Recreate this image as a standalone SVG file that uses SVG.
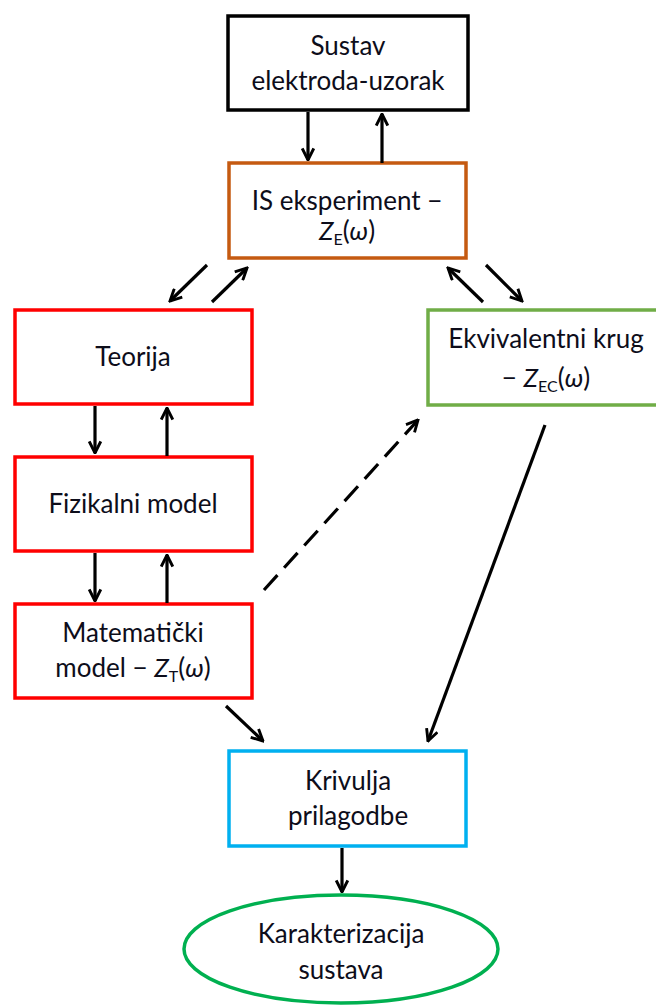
<svg xmlns="http://www.w3.org/2000/svg" width="656" height="1006" viewBox="0 0 656 1006">
<style>
.t{font-family:Lato,"Open Sans","Liberation Sans",sans-serif;font-size:26px;fill:#0d0d1a;text-anchor:middle}
.i{font-style:italic}
.s{font-size:16px}
.b{fill:#fff;stroke-width:3.5}
.c{stroke:#000;stroke-width:3.2;fill:none}
</style>
<defs>
<marker id="a" viewBox="0 0 10 10" refX="9" refY="5" markerWidth="4.5" markerHeight="4.5" orient="auto" markerUnits="strokeWidth">
<path d="M1,1 L9,5 L1,9" fill="none" stroke="#000" stroke-width="2"/>
</marker>
</defs>
<rect width="656" height="1006" fill="#fff"/>
<g id="n1"><rect class="b" x="228" y="16" width="240" height="94" stroke="#000"/>
<text class="t" x="348" y="55">Sustav</text><text class="t" x="348" y="90">elektroda-uzorak</text></g>
<g id="n2"><rect class="b" x="229" y="163" width="237" height="95" stroke="#C55A11"/>
<text class="t" x="347" y="210">IS eksperiment −</text>
<text class="t" x="347" y="240"><tspan class="i">Z</tspan><tspan class="s" dy="5">E</tspan><tspan dy="-5">(</tspan><tspan class="i">ω</tspan>)</text></g>
<g id="n3"><rect class="b" x="15" y="310" width="237" height="94" stroke="#FF0000"/>
<text class="t" x="133" y="366">Teorija</text></g>
<g id="n4"><rect class="b" x="428" y="310" width="232" height="95" stroke="#70AD47"/>
<text class="t" x="546" y="348">Ekvivalentni krug</text>
<text class="t" x="546" y="387">− <tspan class="i">Z</tspan><tspan class="s" dy="5">EC</tspan><tspan dy="-5">(</tspan><tspan class="i">ω</tspan>)</text></g>
<g id="n5"><rect class="b" x="15" y="457" width="237" height="94" stroke="#FF0000"/>
<text class="t" x="133" y="513">Fizikalni model</text></g>
<g id="n6"><rect class="b" x="15" y="604" width="237" height="94" stroke="#FF0000"/>
<text class="t" x="133" y="642">Matematički</text>
<text class="t" x="133" y="677">model − <tspan class="i">Z</tspan><tspan class="s" dy="5">T</tspan><tspan dy="-5">(</tspan><tspan class="i">ω</tspan>)</text></g>
<g id="n7"><rect class="b" x="229" y="751" width="237" height="95" stroke="#00B0F0"/>
<text class="t" x="348" y="790">Krivulja</text><text class="t" x="348" y="825">prilagodbe</text></g>
<g id="n8"><ellipse class="b" cx="341" cy="949" rx="157" ry="54" stroke="#00B050"/>
<text class="t" x="341" y="943">Karakterizacija</text><text class="t" x="341" y="979">sustava</text></g>
<g id="connectors">
<line class="c" x1="308" y1="112" x2="308" y2="160" marker-end="url(#a)"/>
<line class="c" x1="382" y1="163" x2="382" y2="114" marker-end="url(#a)"/>
<line class="c" x1="207" y1="265" x2="170" y2="301" marker-end="url(#a)"/>
<line class="c" x1="212" y1="302" x2="247" y2="268" marker-end="url(#a)"/>
<line class="c" x1="483" y1="302" x2="448" y2="268" marker-end="url(#a)"/>
<line class="c" x1="486" y1="265" x2="522" y2="301" marker-end="url(#a)"/>
<line class="c" x1="95" y1="406" x2="95" y2="453" marker-end="url(#a)"/>
<line class="c" x1="167" y1="456" x2="167" y2="408" marker-end="url(#a)"/>
<line class="c" x1="95" y1="553" x2="95" y2="601" marker-end="url(#a)"/>
<line class="c" x1="167" y1="603" x2="167" y2="555" marker-end="url(#a)"/>
<line class="c" x1="264" y1="590" x2="418" y2="420" stroke-dasharray="20,10" marker-end="url(#a)"/>
<line class="c" x1="545" y1="425" x2="428" y2="741" marker-end="url(#a)"/>
<line class="c" x1="226" y1="706" x2="263" y2="741" marker-end="url(#a)"/>
<line class="c" x1="342" y1="848" x2="342" y2="892" marker-end="url(#a)"/>
</g>
</svg>
